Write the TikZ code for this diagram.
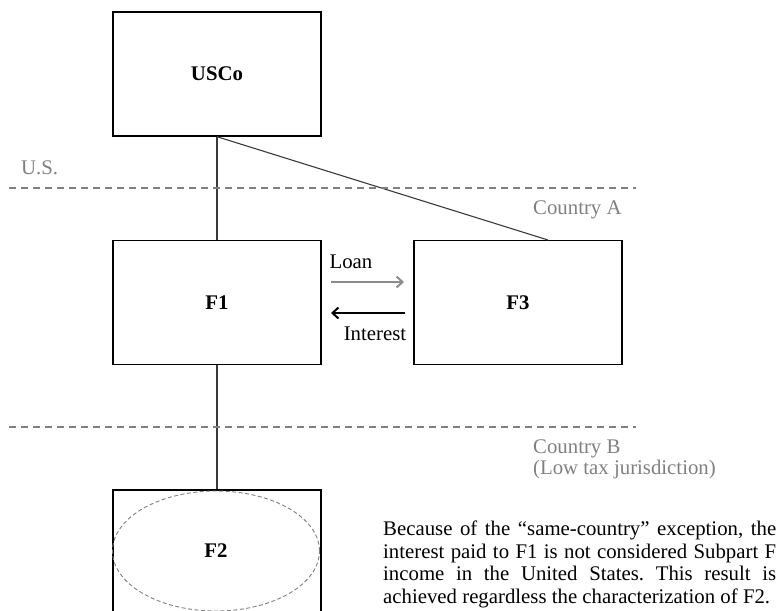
\documentclass[tikz,border=0pt]{standalone}
\usepackage{fontspec}
\setmainfont{Liberation Serif}
\usetikzlibrary{arrows.meta,shapes.geometric}
\definecolor{bordergray}{HTML}{808080}
\definecolor{linkgray}{HTML}{3A3A3A}
\definecolor{loangray}{HTML}{8C8C8C}
\newcommand{\diagfont}{\fontsize{20.8}{22.5}\selectfont}
\frenchspacing
\begin{document}
\begin{tikzpicture}[x=1pt,y=-1pt,
  entity/.style={draw=black, line width=1.4pt, minimum width=208pt, minimum height=124pt,
    inner sep=0pt, font=\diagfont\bfseries},
  owns/.style={draw=linkgray, line width=1.1pt},
  border/.style={draw=bordergray, line width=1.3pt, dash pattern=on 7pt off 5pt},
  region/.style={text=bordergray, inner sep=0pt, anchor=west, font=\diagfont},
  flowlabel/.style={inner sep=0pt, font=\diagfont},
  flow/.style={line width=2pt, -{Straight Barb[length=6pt,width=11pt,line width=2pt]}}
]
\useasboundingbox (0,0) rectangle (780,611);

% entities
\node[entity] (usco) at (217,74) {USCo};
\node[entity] (f1) at (217,302.5) {F1};
\node[entity] (f3) at (518,302.5) {F3};
\node[entity] (f2) at (217,552) {};
\node[ellipse, draw=bordergray, line width=0.9pt, dash pattern=on 4pt off 2.5pt,
  minimum width=207pt, minimum height=120pt, inner sep=0pt,
  font=\diagfont\bfseries] (f2oval) at (216,551) {F2};

% ownership links
\coordinate (f3top) at (548,240);
\draw[owns] (usco.south) -- (f1.north);
\draw[owns] (usco.south) -- (f3top);
\draw[owns] (f1.south) -- (f2.north);

% jurisdiction borders
\coordinate (usL) at (9,188);  \coordinate (usR) at (636,188);
\coordinate (bL) at (9,427);   \coordinate (bR) at (636,427);
\draw[border] (usL) -- (usR);
\draw[border] (bL) -- (bR);
\node[region] (lus) at (21,168) {U.S.};
\node[region] (lca) at (533,210) {Country A};
\node[region] (lcb) at (533,449) {Country B};
\node[region] (lcl) at (533,469) {(Low tax jurisdiction)};

% loan and interest flows
\coordinate (loanS) at (331,282); \coordinate (loanE) at (404,282);
\coordinate (intS) at (405,313);  \coordinate (intE) at (331,313);
\draw[flow, draw=loangray] (loanS) -- (loanE);
\draw[flow, draw=black] (intS) -- (intE);
\node[flowlabel] (lloan) at (351,262) {Loan};
\node[flowlabel] (lint) at (375,334) {Interest};

% explanatory note
\node[anchor=north west, inner sep=0pt, text width=393pt, align=justify,
  font=\diagfont] (note) at (383,521)
  {\hyphenpenalty=10000\exhyphenpenalty=10000 Because of the ``same-country'' exception, the interest paid to F1 is not considered Subpart~F income in the United States. This result is achieved regardless the characterization of F2.};
\end{tikzpicture}
\end{document}
